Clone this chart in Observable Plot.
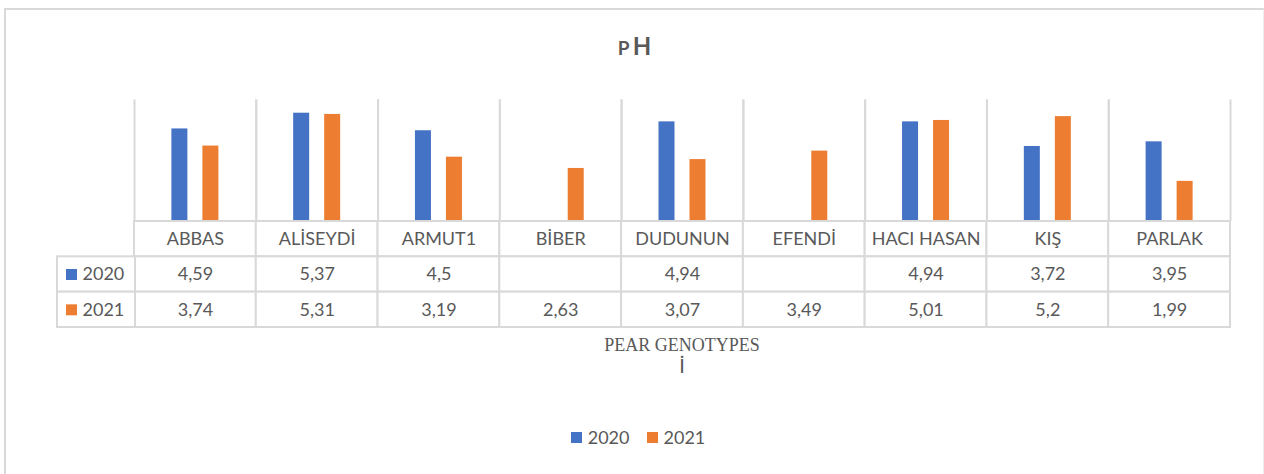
<!DOCTYPE html>
<html>
<head>
<meta charset="utf-8">
<script src="https://cdn.jsdelivr.net/npm/d3@7"></script>
<script src="https://cdn.jsdelivr.net/npm/@observablehq/plot@0.6"></script>
<style>
  html, body { margin: 0; padding: 0; background: #fff; }
  #wrap { position: relative; width: 1264px; height: 474px; overflow: hidden; background: #fff; font-family: Lato, "Open Sans", sans-serif; color: #595959; }
  #border { position: absolute; left: 4px; top: 8px; width: 1257px; height: 480px; border-left: 2px solid #d9d9d9; border-top: 2px solid #d9d9d9; border-right: 1px solid #eeeeee; }
  #title { position: absolute; left: 4px; width: 1264px; top: 31px; text-align: center; font: bold 24px Lato, sans-serif; letter-spacing: 3px; color: #595959; }
  #title .p { font-size: 19px; text-transform: uppercase; }
  .abs { position: absolute; }
  #xlabel { position: absolute; left: 0; width: 1364px; top: 335px; text-align: center; font: 18px "Liberation Serif", "Times New Roman", serif; color: #595959; line-height: 20px; }
  #xlabel2 { position: absolute; left: 0; width: 1364px; top: 353px; text-align: center; font: 20px Lato, sans-serif; color: #595959; line-height: 24px; }
  #legend { position: absolute; left: 0; width: 1276px; top: 426px; display: flex; justify-content: center; gap: 17px; font: 18px Lato, sans-serif; color: #595959; }
  #legend .item { display: flex; align-items: center; gap: 6px; }
  #legend .sw { width: 11px; height: 11px; display: inline-block; }
</style>
</head>
<body>
<div id="wrap">
  <div id="border"></div>
  <div id="title"><span class="p">p</span>H</div>
  <div id="bars" class="abs" style="left:0;top:90px;"></div>
  <div id="table" class="abs" style="left:0;top:220px;"></div>
  <div id="keys" class="abs" style="left:56px;top:220px;"></div>
  <div id="xlabel">PEAR GENOTYPES</div>
  <div id="xlabel2">İ</div>
  <div id="legend"></div>
</div>
<script>
// ---- data ----
const categories = ["ABBAS", "ALİSEYDİ", "ARMUT1", "BİBER", "DUDUNUN", "EFENDİ", "HACI HASAN", "KIŞ", "PARLAK"];
const years = ["2020", "2021"];
const values2020 = [4.59, 5.37, 4.5, null, 4.94, null, 4.94, 3.72, 3.95];
const values2021 = [3.74, 5.31, 3.19, 2.63, 3.07, 3.49, 5.01, 5.2, 1.99];
const colors = ["#4472C4", "#ED7D31"];
const grid = "#d9d9d9";
const textColor = "#595959";

const series = {"2020": values2020, "2021": values2021};
const data = [];
for (const y of years) categories.forEach((c, i) => data.push({cat: c, year: y, value: series[y][i]}));

const fmt = v => v == null ? "" : String(v).replace(".", ",");
const rows = ["cat", ...years];
const tableData = [];
categories.forEach((c, i) => {
  tableData.push({cat: c, row: "cat", label: c});
  for (const y of years) tableData.push({cat: c, row: y, label: fmt(series[y][i])});
});

// ---- bar chart ----
const bars = Plot.plot({
  width: 1264, height: 131,
  marginTop: 10, marginBottom: 0, marginLeft: 134, marginRight: 34,
  fx: {domain: categories, padding: 0, round: false, axis: null},
  x: {domain: years, paddingInner: 0.484, paddingOuter: 1.206, round: false, axis: null},
  y: {domain: [0, 6], axis: null},
  color: {domain: years, range: colors},
  marks: [
    Plot.frame({anchor: "left", stroke: grid, strokeWidth: 2}),
    Plot.frame({anchor: "right", stroke: grid, strokeWidth: 2}),
    Plot.barY(data.filter(d => d.value != null), {fx: "cat", x: "year", y: "value", fill: "year"})
  ]
});
document.getElementById("bars").append(bars);

// ---- data table ----
const table = Plot.plot({
  width: 1264, height: 108,
  marginTop: 1, marginBottom: 1, marginLeft: 134, marginRight: 34,
  x: {domain: categories, padding: 0, round: false, axis: null},
  y: {domain: rows, padding: 0, round: false, axis: null},
  marks: [
    Plot.cell(tableData, {x: "cat", y: "row", fill: "white", stroke: grid, strokeWidth: 2}),
    Plot.text(tableData, {x: "cat", y: "row", text: "label", fill: textColor, fontSize: 18, fontFamily: "Lato, sans-serif"})
  ]
});
document.getElementById("table").append(table);

// ---- row keys ----
const keyData = years.map((y, i) => ({row: y, color: colors[i]}));
const keys = Plot.plot({
  width: 80, height: 108,
  marginTop: 1, marginBottom: 1, marginLeft: 1, marginRight: 1,
  x: {domain: ["key"], padding: 0, round: false, axis: null},
  y: {domain: rows, padding: 0, round: false, axis: null},
  marks: [
    Plot.cell(keyData, {x: () => "key", y: "row", fill: "white", stroke: grid, strokeWidth: 2}),
    Plot.dot(keyData, {y: "row", frameAnchor: "left", dx: 14, symbol: "square", r: 6.2, fill: "color", stroke: null}),
    Plot.text(keyData, {y: "row", text: "row", frameAnchor: "left", dx: 25, textAnchor: "start", fill: textColor, fontSize: 18, fontFamily: "Lato, sans-serif"})
  ]
});
document.getElementById("keys").append(keys);

// ---- legend ----
const legend = document.getElementById("legend");
years.forEach((y, i) => {
  const item = document.createElement("div");
  item.className = "item";
  item.innerHTML = `<span class="sw" style="background:${colors[i]}"></span><span>${y}</span>`;
  legend.append(item);
});
</script>
</body>
</html>
